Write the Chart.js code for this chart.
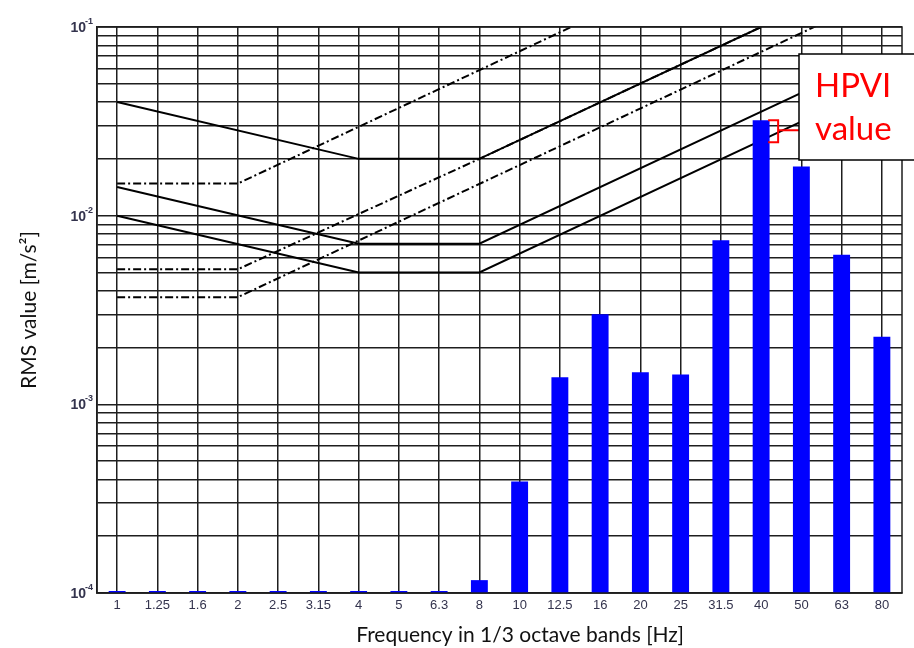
<!DOCTYPE html>
<html>
<head>
<meta charset="utf-8">
<script src="https://cdn.jsdelivr.net/npm/chart.js@4"></script>
<style>
    html, body { margin: 0; padding: 0; background: #fff; }
    #wrap { width: 914px; height: 648px; }
</style>
</head>
<body>
<div id="wrap"><canvas id="myChart" width="914" height="648"></canvas></div>
<script>
// 1/3 octave band centre frequencies
const bands = ['1', '1.25', '1.6', '2', '2.5', '3.15', '4', '5', '6.3', '8',
    '10', '12.5', '16', '20', '25', '31.5', '40', '50', '63', '80'];

// measured RMS values per band (1e-4 = nothing above the floor)
const rmsValues = [1e-4, 1e-4, 1e-4, 1e-4, 1e-4, 1e-4, 1e-4, 1e-4, 1e-4, 1.17e-4,
    3.9e-4, 1.39e-3, 3.0e-3, 1.48e-3, 1.44e-3, 7.4e-3, 3.2e-2, 1.82e-2, 6.2e-3, 2.28e-3];

// limit curves, corner points only [band, value]
const solidTop = [['1', 0.04], ['4', 0.02], ['8', 0.02], ['40', 0.1]];
const solidMid = [['1', 0.0142], ['4', 0.0071], ['8', 0.0071], ['80', 0.071]];
const solidLow = [['1', 0.01], ['4', 0.005], ['8', 0.005], ['80', 0.05]];
const dashTop = [['1', 0.0148], ['2', 0.0148], ['16', 0.118]];
const dashMid = [['1', 0.0052], ['2', 0.0052], ['8', 0.02], ['40', 0.1]];
const dashLow = [['1', 0.0037], ['2', 0.0037], ['63', 0.117]];

// y axis decades and their exponents
const decades = [1e-4, 1e-3, 1e-2, 1e-1];
const decadeExps = ['-4', '-3', '-2', '-1'];

// grid at 1..9 x each decade
const gridTicks = [];
for (let d of decades.slice(0, 3)) {
    for (let m = 1; m <= 9; m++) gridTicks.push(d * m);
}
gridTicks.push(decades[3]);

const toPoints = (arr) => arr.map(p => ({ x: p[0], y: p[1] }));

const gridColor = '#1e1e1e';
const tickColor = '#33334d';

function limitLine(arr, dashed) {
    return {
        type: 'line',
        data: toPoints(arr),
        borderColor: '#000',
        borderWidth: 2,
        borderDash: dashed ? [8, 3, 2, 3] : [],
        pointRadius: 0,
        fill: false,
        tension: 0,
        order: 2
    };
}

// frame, y decade labels, x title and the HPVI call-out
const extras = {
    id: 'extras',
    afterDraw(chart) {
        const ctx = chart.ctx;
        const a = chart.chartArea;
        const xs = chart.scales.x;
        const ys = chart.scales.y;
        ctx.save();
        ctx.strokeStyle = gridColor;
        ctx.lineWidth = 1.5;
        ctx.strokeRect(a.left, a.top, a.right - a.left, a.bottom - a.top);

        // 10 with a raised exponent
        ctx.fillStyle = tickColor;
        ctx.textBaseline = 'alphabetic';
        decades.forEach((d, k) => {
            const y = ys.getPixelForValue(d);
            ctx.font = 'bold 14px "Liberation Sans"';
            ctx.textAlign = 'right';
            ctx.fillText('10', 86, y + 5);
            ctx.font = 'bold 9px "Liberation Sans"';
            ctx.textAlign = 'left';
            ctx.fillText(decadeExps[k], 85, y - 3);
        });

        ctx.fillStyle = '#111';
        ctx.font = '21px Lato';
        ctx.textAlign = 'center';
        ctx.textBaseline = 'middle';
        ctx.fillText('Frequency in 1/3 octave bands [Hz]', 520, 635);

        // bracket at the top of the 40 Hz bar
        const i = bands.indexOf('40');
        const bx = xs.getPixelForValue(i) + 17;
        const by = ys.getPixelForValue(rmsValues[i]);
        ctx.strokeStyle = '#ff0000';
        ctx.lineWidth = 2;
        ctx.beginPath();
        ctx.moveTo(bx - 10, by);
        ctx.lineTo(bx, by);
        ctx.lineTo(bx, by + 22);
        ctx.lineTo(bx - 10, by + 22);
        ctx.moveTo(bx, by + 10);
        ctx.lineTo(799, by + 10);
        ctx.stroke();

        ctx.fillStyle = '#fff';
        ctx.fillRect(799, 54, 130, 106);
        ctx.strokeStyle = '#000';
        ctx.lineWidth = 1.5;
        ctx.strokeRect(799, 54, 130, 106);

        ctx.fillStyle = '#ff0000';
        ctx.font = '33px Lato';
        ctx.textAlign = 'left';
        ctx.textBaseline = 'alphabetic';
        ctx.fillText('HPVI', 815, 97);
        ctx.fillText('value', 815, 140);
        ctx.restore();
    }
};

const ctx = document.getElementById('myChart').getContext('2d');
// eslint-disable-next-line no-undef
new Chart(ctx, {
    type: 'bar',
    data: {
        labels: bands,
        datasets: [
            {
                label: 'RMS',
                data: rmsValues,
                backgroundColor: '#0000ff',
                borderWidth: 0,
                barPercentage: 0.42,
                categoryPercentage: 1,
                minBarLength: 2,
                order: 1
            },
            limitLine(solidTop, false),
            limitLine(solidMid, false),
            limitLine(solidLow, false),
            limitLine(dashTop, true),
            limitLine(dashMid, true),
            limitLine(dashLow, true)
        ]
    },
    options: {
        responsive: false,
        animation: false,
        events: [],
        layout: { padding: { top: 27, right: 12, left: 0, bottom: 0 } },
        plugins: {
            legend: { display: false },
            tooltip: { enabled: false }
        },
        scales: {
            x: {
                offset: true,
                grid: { offset: false, color: gridColor, lineWidth: 1.5, drawTicks: false },
                border: { color: gridColor, width: 1.5 },
                ticks: {
                    color: tickColor,
                    font: { family: 'Liberation Sans', size: 13 },
                    padding: 5,
                    maxRotation: 0,
                    autoSkip: false
                },
                afterFit(scale) { scale.height = 55; }
            },
            y: {
                type: 'logarithmic',
                min: 1e-4,
                max: 0.1,
                afterBuildTicks(scale) {
                    scale.ticks = gridTicks.map(v => ({ value: v }));
                },
                grid: { color: gridColor, lineWidth: 1.5, drawTicks: false },
                border: { color: gridColor, width: 1.5 },
                ticks: {
                    // decade labels are drawn by the extras plugin
                    callback() { return ''; }
                },
                title: {
                    display: true,
                    text: 'RMS value [m/s\u00B2]',
                    color: '#111',
                    font: { family: 'Lato', size: 21 },
                    padding: { top: 17, bottom: 0 }
                },
                afterFit(scale) { scale.width = 97; }
            }
        }
    },
    plugins: [extras]
});
</script>
</body>
</html>
